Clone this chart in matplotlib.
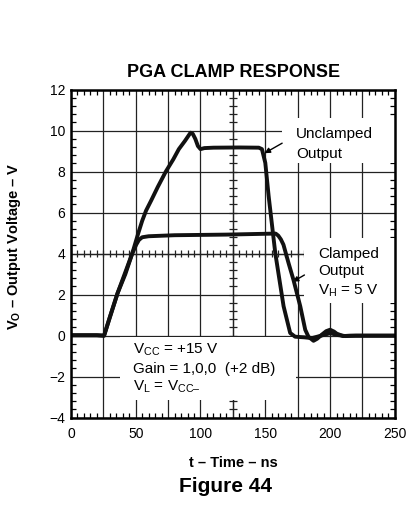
import numpy as np
import matplotlib
matplotlib.use("Agg")
import matplotlib.pyplot as plt
from matplotlib.patches import Rectangle

plt.rcParams['font.family'] = ['Liberation Sans', 'DejaVu Sans']
plt.rcParams['mathtext.fontset'] = 'custom'
plt.rcParams['mathtext.rm'] = 'Liberation Sans'
plt.rcParams['mathtext.it'] = 'Liberation Sans'
plt.rcParams['mathtext.bf'] = 'Liberation Sans:bold'
plt.rcParams['mathtext.default'] = 'regular'

# ---- data ----
t_unclamped = [0, 20, 25.6, 30, 36, 42, 47.4, 52, 55, 58, 62, 67, 73.2, 79, 83.3, 88, 92.3, 94, 96, 98,
               100, 103, 110, 130, 145, 147.4, 150, 152.6, 157.7, 164.1, 169.2, 173, 180, 186,
               193, 200, 206, 212, 220, 250]
v_unclamped = [0.02, 0.02, 0.0, 0.9, 2.07, 3.0, 4.02, 5.0, 5.6, 6.1, 6.6, 7.25, 8.0, 8.6, 9.1, 9.5, 9.9, 9.85,
               9.6, 9.25, 9.1, 9.15, 9.17, 9.18, 9.17, 9.1, 8.43, 6.8, 4.03, 1.44, 0.13, -0.05,
               -0.08, -0.12, 0.0, 0.12, 0.03, -0.02, 0.0, 0.0]

t_clamped = [0, 20, 25.6, 36, 47.4, 50.5, 52.5, 55, 60, 80, 120, 150, 158, 160, 162, 164, 167.9,
             171.7, 177, 180.8, 183.3, 187.2, 190, 193.6, 197, 200, 203, 205.1, 210, 215, 250]
v_clamped = [0.02, 0.02, 0.0, 2.07, 4.02, 4.45, 4.67, 4.8, 4.85, 4.9, 4.93, 4.97, 4.98, 4.88, 4.7,
             4.44, 3.55, 2.73, 1.43, 0.29, -0.05, -0.25, -0.15, 0.05, 0.22, 0.29, 0.2, 0.1,
             -0.02, 0.0, 0.0]

x_ticks = [0, 50, 100, 150, 200, 250]
y_ticks = [-4, -2, 0, 2, 4, 6, 8, 10, 12]

fig = plt.figure(figsize=(4.17, 5.08), dpi=100)
ax = fig.add_axes([0.170, 0.1778, 0.777, 0.6457])
ax.set_xlim(0, 250)
ax.set_ylim(-4, 12)

# grid
ax.set_xticks(np.arange(0, 251, 25), minor=False)
ax.set_yticks(np.arange(-4, 12.1, 2))
ax.grid(True, which='major', color='#222222', lw=0.9, zorder=1)
ax.set_xticks(np.arange(0, 251, 5), minor=True)
ax.set_yticks(np.arange(-4, 12.01, 0.4), minor=True)
ax.set_xticklabels([str(v) if v in x_ticks else '' for v in range(0, 251, 25)])
ax.set_yticklabels(['\u2212' + str(-int(v)) if v < 0 else str(int(v)) for v in y_ticks])
ax.tick_params(which='both', direction='in', top=True, right=True, color='black')
ax.tick_params(which='major', length=0, labelsize=10, pad=4)
ax.tick_params(axis='x', which='major', pad=7)
ax.tick_params(which='minor', length=3.5, width=0.9)
for s in ax.spines.values():
    s.set_linewidth(1.8)
    s.set_zorder(5)

# center cross with ticks
ax.axvline(125, color='#222222', lw=0.9, zorder=1)
ax.axhline(4, color='#222222', lw=0.9, zorder=1)
ax.vlines(np.arange(0, 251, 5), 4 - 0.17, 4 + 0.17, color='#222222', lw=0.9, zorder=1)
ax.hlines(np.arange(-4, 12.01, 0.4), 125 - 3, 125 + 3, color='#222222', lw=0.9, zorder=1)

# white label boxes
for (x0, y0, w, h) in [(163, 8.42, 87, 2.2), (180, 1.59, 70, 3.17), (37.8, -3.14, 136.2, 3.08)]:
    ax.add_patch(Rectangle((x0, y0), w, h, facecolor='white', edgecolor='none', zorder=2))

# curves
ax.plot(t_unclamped, v_unclamped, color='#111111', lw=2.8, zorder=4,
        solid_joinstyle='round', solid_capstyle='round')
ax.plot(t_clamped, v_clamped, color='#111111', lw=2.8, zorder=4,
        solid_joinstyle='round', solid_capstyle='round')

# annotations
fs = 11
ax.text(173.8, 9.66, 'Unclamped', fontsize=fs, va='baseline', ha='left', zorder=3)
ax.text(173.8, 8.68, 'Output', fontsize=fs, va='baseline', ha='left', zorder=3)
ax.annotate('', xy=(149.4, 8.9), xytext=(163, 9.39),
            arrowprops=dict(arrowstyle='-|>', color='black', lw=1.0, mutation_scale=8,
                            shrinkA=0, shrinkB=0), zorder=3)
ax.text(190.9, 3.78, 'Clamped', fontsize=fs, va='baseline', ha='left', zorder=3)
ax.text(190.9, 2.96, 'Output', fontsize=fs, va='baseline', ha='left', zorder=3)
ax.text(190.9, 1.99, '$V_H$ = 5 V', fontsize=fs, va='baseline', ha='left', zorder=3)
ax.annotate('', xy=(171.2, 2.63), xytext=(180.2, 2.96),
            arrowprops=dict(arrowstyle='-|>', color='black', lw=1.0, mutation_scale=8,
                            shrinkA=0, shrinkB=0), zorder=3)
ax.text(48.1, -0.89, '$V_{CC}$ = +15 V', fontsize=fs, va='baseline', ha='left', zorder=3)
ax.text(48.1, -1.80, 'Gain = 1,0,0  (+2 dB)', fontsize=fs, va='baseline', ha='left', zorder=3)
ax.text(48.1, -2.68, '$V_L$ = $V_{CC\u2013}$', fontsize=fs, va='baseline', ha='left', zorder=3)

# titles / labels
fig.text(0.559, 0.849, 'PGA CLAMP RESPONSE', fontsize=13, fontweight='bold', ha='center', va='baseline')
fig.text(0.560, 0.0813, 't \u2013 Time \u2013 ns', fontsize=10.5, fontweight='bold', ha='center', va='baseline')
fig.text(0.541, 0.0321, 'Figure 44', fontsize=15, fontweight='bold', ha='center', va='baseline')
fig.text(14 / 417, 1 - 246.5 / 508, '$\\mathbf{V_O}$ \u2013 Output Voltage \u2013 V',
         fontsize=10.5, fontweight='bold', rotation=90, ha='center', va='center')

fig.savefig('out.png', dpi=100, facecolor='white')
